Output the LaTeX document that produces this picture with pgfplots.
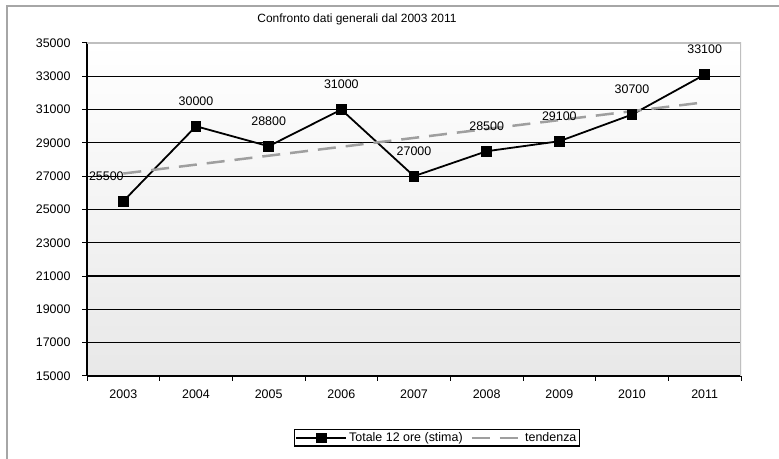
\documentclass[border=0pt]{standalone}
\usepackage{fontspec}
\setmainfont{Liberation Sans}
\usepackage{pgfplots}
\pgfplotsset{compat=1.18}
\begin{document}
\begin{tikzpicture}[x=1bp,y=1bp]
\useasboundingbox (0,0) rectangle (779,459);
\draw[gray!70, line width=2bp] (7,0) -- (7,453) -- (779,453);
\node[font=\fontsize{12}{14}\selectfont] at (357,440) {Confronto dati generali dal 2003 2011};
\begin{axis}[at={(87bp,83bp)}, anchor=south west, scale only axis, width=654bp, height=333bp,
  xmin=-0.5, xmax=8.5, ymin=15000, ymax=35000,
  axis x line*=bottom, axis y line*=left,
  axis line style={line width=1.2bp, black, -},
  xtick={-0.5,0.5,...,8.5}, x tick label as interval,
  xticklabels={2003,2004,2005,2006,2007,2008,2009,2010,2011},
  ytick={15000,17000,...,33000},
  extra y ticks={35000}, extra y tick style={grid=none},
  scaled y ticks=false,
  /pgf/number format/.cd, 1000 sep={}, assume math mode=true, /pgfplots/.cd,
  tick align=outside, major tick length=5bp,
  tick style={black, line width=1bp},
  ymajorgrids, grid style={black, line width=1.2bp},
  axis background/.style={top color=white, bottom color=black!9},
  ticklabel style={font=\fontsize{12.5}{14}\selectfont},
  yticklabel style={xshift=-8bp},
  xticklabel style={yshift=-5bp},
  legend style={at={(0.535,-0.186)}, anchor=center, draw=black, line width=1.5bp,
    font=\fontsize{12.5}{14}\selectfont, legend columns=2, inner sep=1bp,
    /tikz/every even column/.append style={column sep=6bp}},
  legend image code/.code={\draw[mark repeat=2,mark phase=2] plot coordinates {(0bp,0bp) (25bp,0bp) (50bp,0bp)};},
]
\addplot[black, line width=1.8bp, mark=square*, mark size=4.5bp, mark options={solid}] coordinates {
  (0,25500) (1,30000) (2,28800) (3,31000) (4,27000) (5,28500) (6,29100) (7,30700) (8,33100)};
\addlegendentry{Totale 12 ore (stima)}
\addplot[gray!75, line width=2.5bp, dash pattern=on 18bp off 10bp] coordinates {
  (0,27160) (1,27695) (2,28230) (3,28765) (4,29300) (5,29835) (6,30370) (7,30905) (8,31440)};
\addlegendentry{tendenza}
\addplot[draw=none, forget plot, nodes near coords, point meta=explicit symbolic,
  every node near coord/.style={anchor=center, yshift=25bp, font=\fontsize{12.5}{14}\selectfont}] coordinates {
  (1,30000)[30000] (2,28800)[28800] (3,31000)[31000] (4,27000)[27000] (5,28500)[28500]
  (6,29100)[29100] (7,30700)[30700] (8,33100)[33100]};
\addplot[draw=none, forget plot, nodes near coords, point meta=explicit symbolic,
  every node near coord/.style={anchor=center, yshift=25bp, xshift=-17bp, font=\fontsize{12.5}{14}\selectfont}] coordinates {
  (0,25500)[25500]};
\draw[black!25, line width=1.2bp] (rel axis cs:0,1) -- (rel axis cs:1,1) -- (rel axis cs:1,0);
\end{axis}
\end{tikzpicture}
\end{document}
